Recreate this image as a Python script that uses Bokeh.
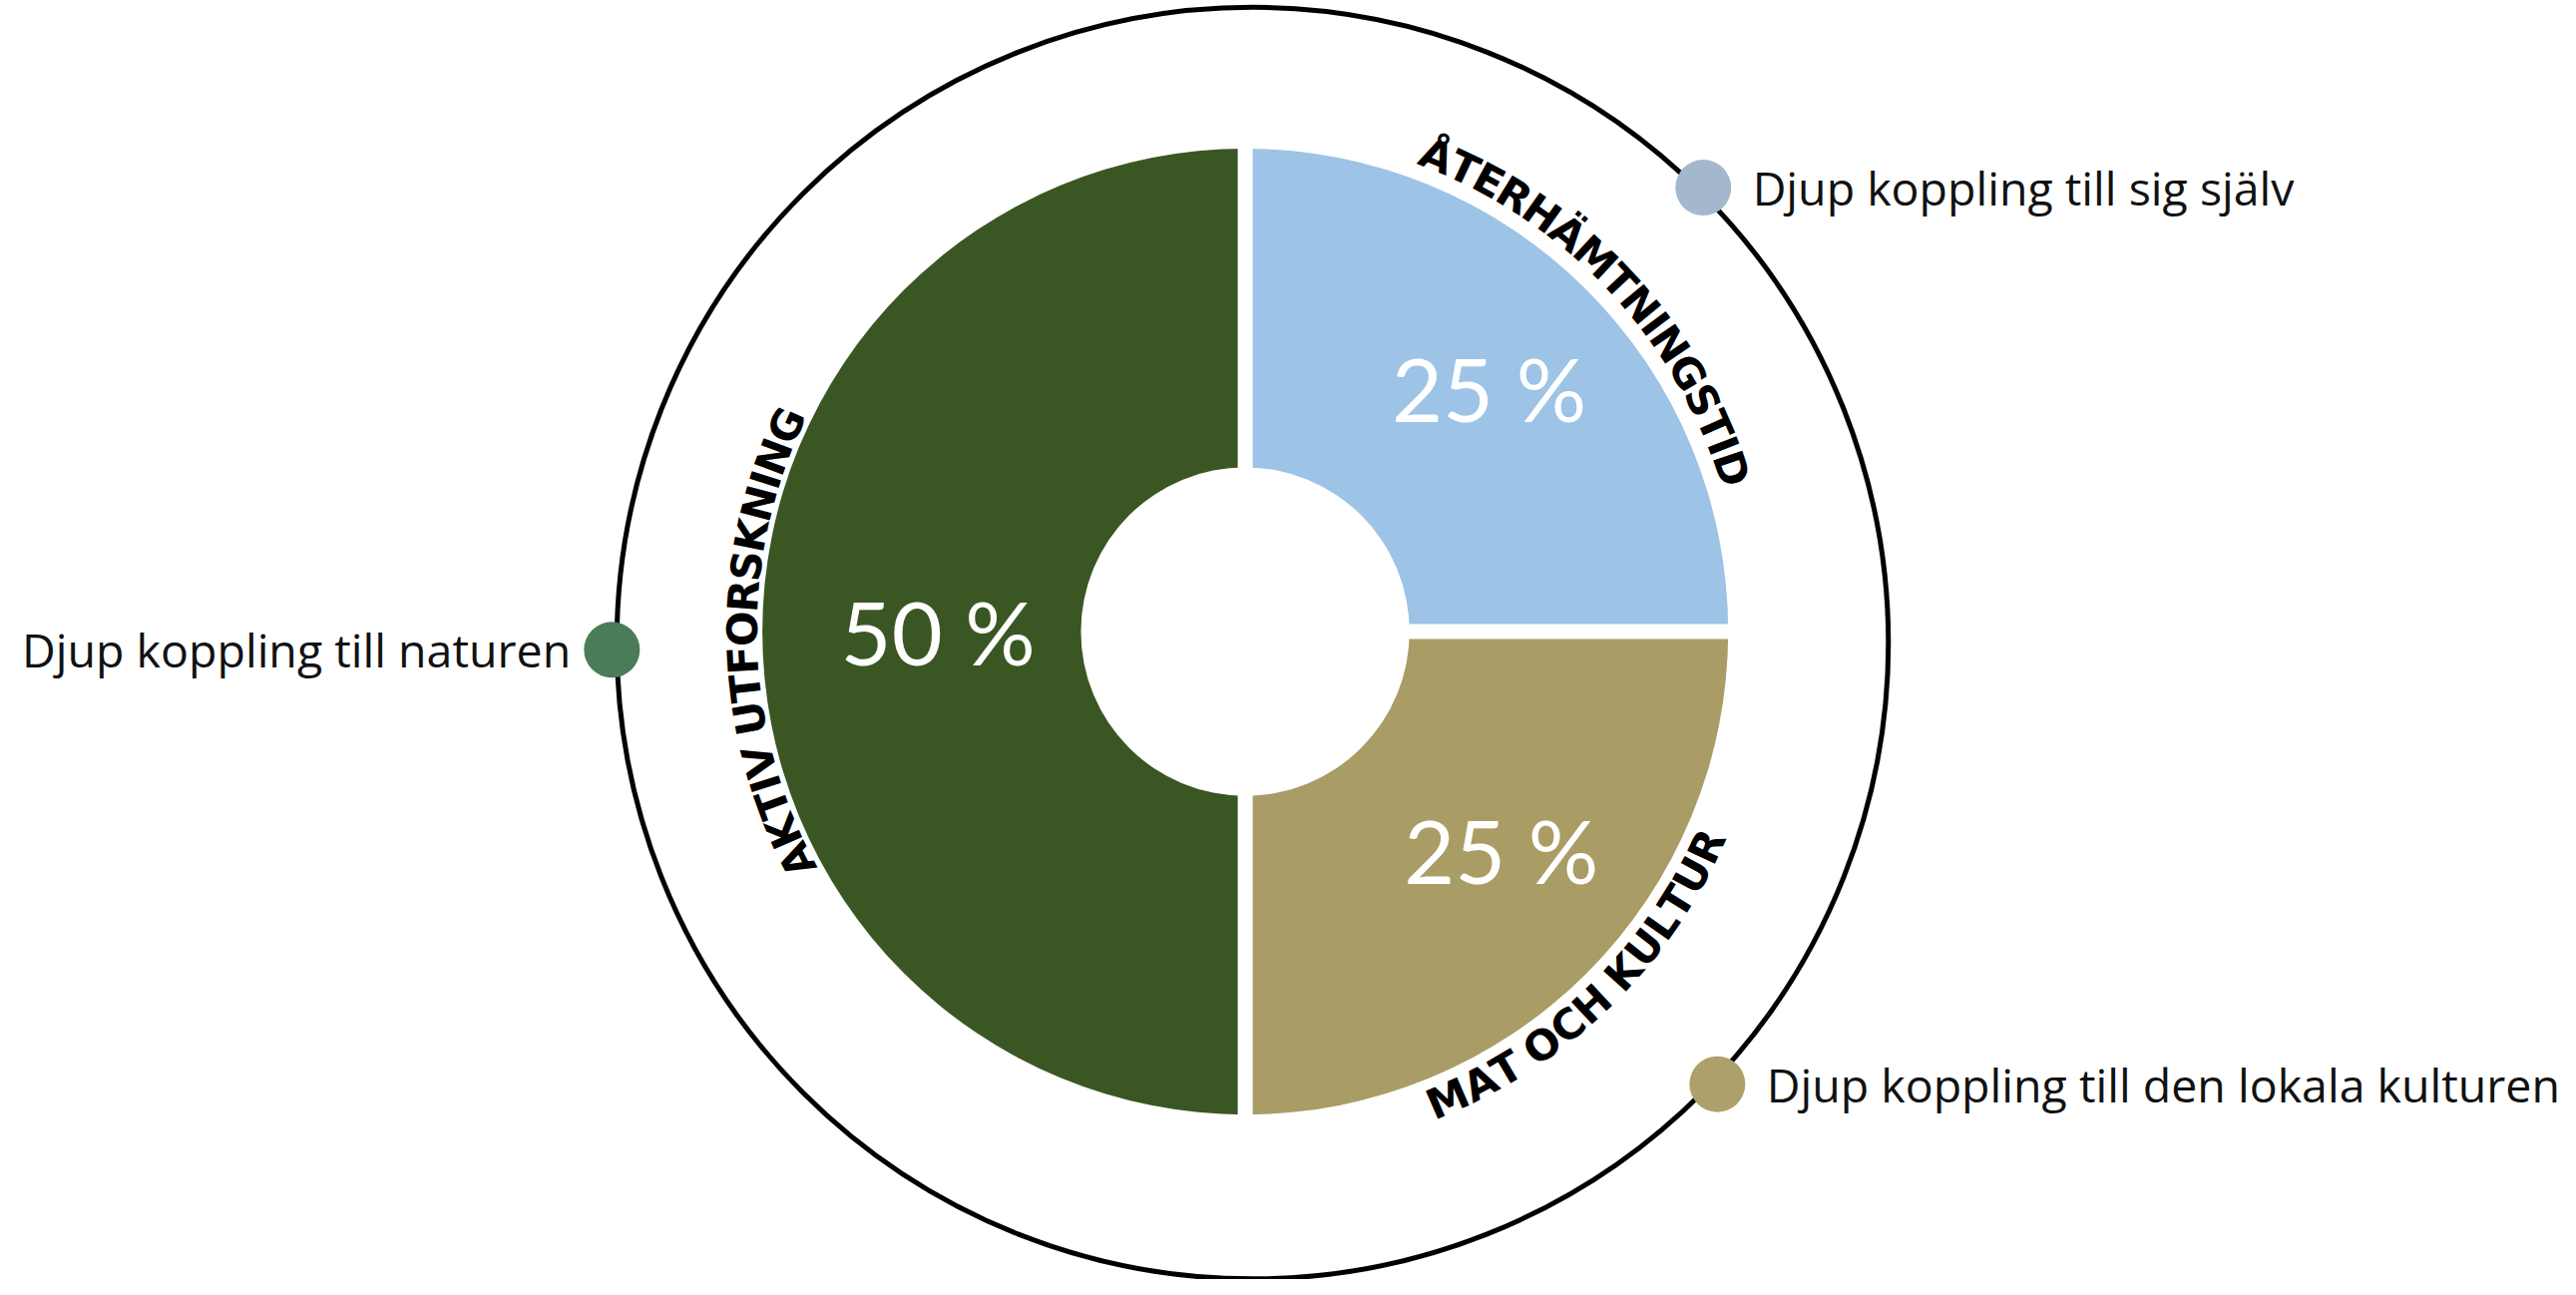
import math
from bokeh.plotting import figure
from bokeh.models import ColumnDataSource, Range1d
from bokeh.embed import file_html
from bokeh.resources import INLINE
from bokeh.core.properties import value

# ---------------- data ----------------
categories = ["AKTIV UTFORSKNING", "MAT OCH KULTUR", "ÅTERHÄMTNINGSTID"]
shares = [50, 25, 25]
wedge_colors = ["#3A5723", "#AA9C65", "#9DC3E6"]
pct_labels = ["50 %", "25 %", "25 %"]
legend_labels = ["Djup koppling till naturen",
                 "Djup koppling till den lokala kulturen",
                 "Djup koppling till sig själv"]
dot_colors = ["#4A7C59", "#ADA06A", "#A3B8CC"]
dot_angles_deg = [180.6, -43.5, 45.3]

# ---------------- layout (units = reference pixels / S) ----------------
S = 2582 / 1568.0
CX, CY = 762.5, -389.0          # donut centre
R_IN, R_OUT = 100.0, 294.0
RING_X, RING_Y, RING_R = 767.0, -396.0, 387.0
DOT_R = 390.0
ARC_R = [306.0, 310.0, 312.0]
ARC_DTHETA = [1.4, -0.75, -1.7]
ARC_FS = 42                      # screen px
ARC_TRACK = -0.5                 # data units
PCT_FS = 88
LEG_FS = 46.5
label_r = [187.0, 205.0, 210.0]
label_dtheta = [0.0, 4.5, 0.0]

p = figure(width=2566, height=1282, output_backend="svg", toolbar_location=None,
           x_range=Range1d(8 / S, 2574 / S), y_range=Range1d(-1290 / S, -8 / S),
           min_border=0, outline_line_color=None, background_fill_color="white",
           border_fill_color="white")
p.axis.visible = False
p.grid.visible = False

# outer ring
p.circle(x=[RING_X], y=[RING_Y], radius=RING_R, fill_color=None,
         line_color="black", line_width=5)

# wedges
total = float(sum(shares))
starts, ends = [], []
a = math.pi / 2
for v in shares:
    starts.append(a)
    a += 2 * math.pi * v / total
    ends.append(a)
mids = [(s + e) / 2 for s, e in zip(starts, ends)]

src = ColumnDataSource(dict(start=starts, end=ends, color=wedge_colors))
p.annular_wedge(x=CX, y=CY, inner_radius=R_IN, outer_radius=R_OUT,
                start_angle="start", end_angle="end", fill_color="color",
                line_color=None, source=src)

# white separators along wedge boundaries
bx0, by0, bx1, by1 = [], [], [], []
for s in starts:
    bx0.append(CX); by0.append(CY)
    bx1.append(CX + (R_OUT + 6) * math.cos(s)); by1.append(CY + (R_OUT + 6) * math.sin(s))
p.segment(x0=bx0, y0=by0, x1=bx1, y1=by1, line_color="white", line_width=15)

# percentage labels
px, py = [], []
for m, r, dt in zip(mids, label_r, label_dtheta):
    t = m + math.radians(dt)
    px.append(CX + r * math.cos(t)); py.append(CY + r * math.sin(t))
p.text(x=px, y=py, text=pct_labels, text_color="white", text_align="center",
       text_baseline="middle", text_font=value("Lato"),
       text_font_size=f"{PCT_FS}px")

# curved category labels (advance widths of DejaVu Sans Bold, em units)
CW = {"A": .774, "K": .776, "T": .683, "I": .371, "V": .774, " ": .30, "U": .813,
      "F": .683, "O": .85, "R": .77, "S": .719, "N": .837, "G": .82, "E": .683,
      "H": .837, "Å": .774, "Ä": .774, "M": .997, "C": .73, "L": .636, "D": .83}
fs_d = ARC_FS / S
cx_, cy_, ct_, ca_ = [], [], [], []
for label, m0, R, dth in zip(categories, mids, ARC_R, ARC_DTHETA):
    m = m0 + math.radians(dth)
    md = math.degrees(m0) % 360
    clockwise = not (180 < md < 360)   # bottom-right label reads anticlockwise
    w = [CW.get(c, .75) * fs_d for c in label]
    centers, acc = [], 0.0
    for wi in w:
        centers.append(acc + wi / 2)
        acc += wi + ARC_TRACK
    off = (centers[0] + centers[-1]) / 2
    for c, sc in zip(label, centers):
        d = (sc - off) / R
        th = m - d if clockwise else m + d
        cx_.append(CX + R * math.cos(th)); cy_.append(CY + R * math.sin(th))
        ct_.append(c)
        ca_.append(th - math.pi / 2 if clockwise else th + math.pi / 2)
p.text(x=cx_, y=cy_, text=ct_, angle=ca_, text_color="black", text_align="center",
       text_baseline="middle", text_font=value("DejaVu Sans"), text_font_style="bold",
       text_font_size=f"{ARC_FS}px")

# legend dots + texts
dx_, dy_ = [], []
for ang in dot_angles_deg:
    t = math.radians(ang)
    dx_.append(RING_X + DOT_R * math.cos(t)); dy_.append(RING_Y + DOT_R * math.sin(t))
p.circle(x=dx_, y=dy_, radius=17, fill_color=dot_colors, line_color=None)

for x, y, lab, ang in zip(dx_, dy_, legend_labels, dot_angles_deg):
    left = math.cos(math.radians(ang)) < 0
    p.text(x=[x - 25 if left else x + 30], y=[y], text=[lab],
           text_align="right" if left else "left", text_baseline="middle",
           text_color="#111111", text_font=value("Open Sans"),
           text_font_size=f"{LEG_FS}px")

open("out.html", "w").write(file_html(p, INLINE))
